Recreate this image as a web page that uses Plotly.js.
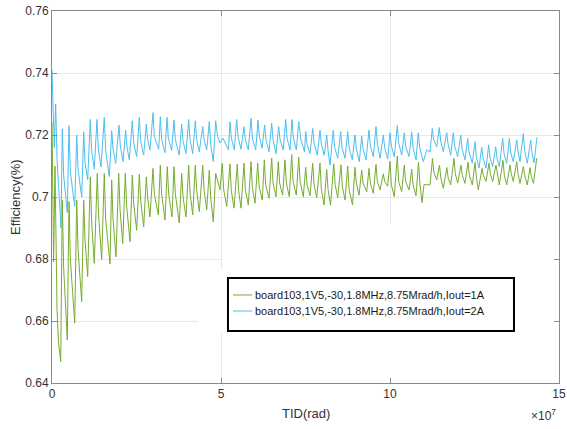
<!DOCTYPE html>
<html>
<head>
<meta charset="utf-8">
<script src="https://cdn.plot.ly/plotly-3.0.1.min.js"></script>
<style>html,body{margin:0;padding:0;background:#fff;}#chart{width:567px;height:429px;}</style>
</head>
<body>
<div id="chart"></div>
<script>
// TID in units of 1e7 rad (axis shows x10^7)
const xTickVals = [0, 5, 10, 15];
const xTickText = ['0', '5', '10', '15'];
const yTickVals = [0.64, 0.66, 0.68, 0.70, 0.72, 0.74, 0.76];
const yTickText = ['0.64', '0.66', '0.68', '0.7', '0.72', '0.74', '0.76'];

const seriesNames = [
  'board103,1V5,-30,1.8MHz,8.75Mrad/h,Iout=1A',
  'board103,1V5,-30,1.8MHz,8.75Mrad/h,Iout=2A'
];

const greenTID = [0.000,0.047,0.089,0.118,0.148,0.192,0.257,0.305,0.345,0.453,0.503,0.543,0.672,0.731,0.771,0.879,0.938,0.978,1.056,1.133,1.173,1.251,1.340,1.380,1.470,1.547,1.587,1.716,1.766,1.806,1.893,1.973,2.013,2.092,2.169,2.209,2.308,2.376,2.416,2.506,2.583,2.623,2.713,2.790,2.830,2.899,2.988,3.028,3.145,3.204,3.244,3.343,3.411,3.451,3.550,3.609,3.649,3.766,3.837,3.877,3.964,4.044,4.084,4.163,4.240,4.280,4.358,4.459,4.499,4.577,4.654,4.694,4.772,4.843,4.900,4.970,5.038,5.078,5.169,5.266,5.306,5.385,5.482,5.522,5.592,5.680,5.720,5.808,5.888,5.928,6.006,6.086,6.126,6.222,6.281,6.321,6.420,6.500,6.540,6.627,6.695,6.735,6.825,6.893,6.933,7.021,7.092,7.132,7.228,7.299,7.339,7.435,7.506,7.546,7.633,7.713,7.753,7.831,7.929,7.969,8.047,8.127,8.167,8.240,8.337,8.377,8.453,8.550,8.590,8.669,8.749,8.789,8.891,8.964,9.004,9.083,9.163,9.203,9.311,9.379,9.419,9.506,9.586,9.626,9.704,9.802,9.842,9.932,10.000,10.040,10.127,10.216,10.256,10.346,10.423,10.463,10.562,10.642,10.682,10.769,10.843,10.883,10.947,11.006,11.183,11.257,11.297,11.382,11.465,11.505,11.577,11.683,11.723,11.796,11.893,11.933,12.003,12.101,12.141,12.219,12.308,12.348,12.435,12.515,12.555,12.612,12.722,12.762,12.840,12.929,12.969,13.038,13.136,13.176,13.234,13.343,13.383,13.453,13.550,13.590,13.648,13.749,13.789,13.846,13.944,13.984,14.062,14.142,14.182,14.246,14.340];
const greenEff = [0.7243,0.679,0.710,0.680,0.664,0.653,0.6469,0.699,0.677,0.6539,0.6985,0.680,0.6593,0.699,0.683,0.6662,0.699,0.686,0.6743,0.7065,0.692,0.6786,0.7076,0.694,0.6799,0.7076,0.693,0.6784,0.7055,0.693,0.6807,0.7076,0.696,0.685,0.7076,0.697,0.6856,0.7071,0.698,0.6893,0.7074,0.699,0.6904,0.7065,0.700,0.6936,0.7092,0.701,0.6942,0.7103,0.701,0.6926,0.7098,0.701,0.6936,0.7098,0.701,0.6916,0.7076,0.700,0.6936,0.7103,0.7015,0.6942,0.7103,0.702,0.6953,0.7103,0.7025,0.6958,0.7087,0.700,0.692,0.7076,0.7055,0.7023,0.7109,0.7025,0.6969,0.7106,0.702,0.6964,0.7106,0.702,0.6964,0.7109,0.7025,0.6974,0.7114,0.703,0.698,0.7109,0.7035,0.699,0.712,0.704,0.6996,0.7125,0.7045,0.7001,0.7114,0.7045,0.7006,0.712,0.7045,0.7001,0.7137,0.705,0.7006,0.7129,0.705,0.7001,0.7096,0.704,0.7004,0.7109,0.704,0.6998,0.7109,0.7025,0.6974,0.7089,0.7025,0.6974,0.7107,0.704,0.6998,0.7104,0.7035,0.699,0.710,0.7025,0.6974,0.7096,0.7045,0.7006,0.7087,0.7045,0.7017,0.7092,0.7045,0.7012,0.7105,0.705,0.7023,0.7075,0.705,0.7035,0.7115,0.704,0.7001,0.7132,0.705,0.7017,0.7103,0.705,0.7023,0.709,0.704,0.7004,0.7112,0.7045,0.6982,0.704,0.7039,0.7124,0.708,0.7055,0.7103,0.706,0.7028,0.7095,0.706,0.7039,0.7125,0.7075,0.7045,0.7103,0.707,0.7044,0.7112,0.707,0.7039,0.7112,0.7065,0.7023,0.7092,0.707,0.705,0.7109,0.7075,0.705,0.7103,0.707,0.7039,0.7118,0.707,0.7039,0.7103,0.7075,0.705,0.7114,0.7075,0.7044,0.7098,0.707,0.7039,0.7095,0.7065,0.7044,0.7125];

const blueTID = [0.000,0.068,0.109,0.150,0.266,0.305,0.345,0.453,0.503,0.543,0.672,0.731,0.771,0.879,0.938,0.978,1.056,1.133,1.173,1.251,1.331,1.371,1.450,1.547,1.587,1.695,1.766,1.806,1.885,1.982,2.022,2.101,2.180,2.220,2.287,2.376,2.416,2.506,2.583,2.623,2.713,2.790,2.830,2.899,2.988,3.028,3.157,3.204,3.244,3.343,3.402,3.442,3.541,3.609,3.649,3.766,3.837,3.877,3.964,4.044,4.084,4.163,4.240,4.280,4.358,4.459,4.499,4.577,4.654,4.694,4.772,4.843,4.900,4.970,5.059,5.222,5.266,5.306,5.393,5.464,5.504,5.592,5.680,5.720,5.808,5.888,5.928,6.027,6.095,6.135,6.213,6.293,6.333,6.420,6.500,6.540,6.627,6.707,6.747,6.843,6.914,6.954,7.041,7.101,7.141,7.228,7.299,7.367,7.420,7.470,7.506,7.546,7.633,7.713,7.753,7.849,7.929,7.969,8.056,8.127,8.167,8.225,8.322,8.362,8.453,8.541,8.581,8.669,8.749,8.789,8.885,8.964,9.004,9.092,9.163,9.203,9.290,9.379,9.419,9.506,9.586,9.626,9.704,9.802,9.842,9.932,10.000,10.040,10.127,10.216,10.256,10.346,10.423,10.463,10.562,10.642,10.682,10.769,10.837,10.877,10.985,11.086,11.183,11.251,11.291,11.382,11.459,11.499,11.577,11.678,11.718,11.796,11.873,11.913,12.003,12.092,12.132,12.219,12.299,12.339,12.435,12.515,12.555,12.633,12.713,12.753,12.840,12.920,12.960,13.038,13.127,13.167,13.234,13.334,13.374,13.453,13.530,13.570,13.648,13.749,13.789,13.846,13.944,13.984,14.062,14.163,14.203,14.260,14.349];
const blueEff = [0.741,0.716,0.730,0.712,0.690,0.722,0.707,0.695,0.723,0.708,0.697,0.720,0.709,0.700,0.721,0.711,0.7055,0.725,0.715,0.709,0.725,0.7155,0.7097,0.7257,0.715,0.7066,0.7214,0.7155,0.7109,0.7232,0.7165,0.7114,0.7216,0.716,0.712,0.7246,0.7175,0.713,0.7257,0.718,0.7135,0.7235,0.7185,0.7152,0.7272,0.7195,0.7154,0.7259,0.7185,0.7143,0.7257,0.719,0.715,0.7248,0.7185,0.7135,0.7235,0.718,0.714,0.725,0.7185,0.714,0.7246,0.7185,0.7146,0.7227,0.7185,0.7152,0.7243,0.717,0.7114,0.7246,0.7195,0.7174,0.719,0.7152,0.7243,0.719,0.7152,0.725,0.7195,0.7154,0.7227,0.7185,0.7152,0.7254,0.719,0.7152,0.7248,0.7195,0.7157,0.7232,0.7185,0.7146,0.7238,0.7185,0.714,0.7227,0.7185,0.7152,0.725,0.719,0.7152,0.725,0.719,0.7152,0.7243,0.7184,0.7165,0.7145,0.7211,0.717,0.714,0.7221,0.7175,0.7135,0.7216,0.717,0.7135,0.720,0.715,0.7103,0.7216,0.716,0.7125,0.7211,0.716,0.7125,0.7211,0.716,0.712,0.720,0.7155,0.7114,0.7197,0.7155,0.712,0.7216,0.7165,0.713,0.7227,0.717,0.7125,0.720,0.716,0.7122,0.7207,0.7165,0.713,0.723,0.7175,0.7135,0.7207,0.7165,0.713,0.721,0.716,0.712,0.7207,0.716,0.7114,0.7152,0.7145,0.7221,0.7185,0.7162,0.7224,0.718,0.7146,0.7207,0.717,0.7135,0.7207,0.7165,0.713,0.720,0.7155,0.712,0.7189,0.7145,0.7109,0.7178,0.713,0.7093,0.716,0.7125,0.7093,0.7168,0.7125,0.7098,0.7162,0.7125,0.7098,0.7189,0.714,0.7109,0.7189,0.7145,0.7114,0.7184,0.7145,0.7114,0.7205,0.715,0.7109,0.7184,0.714,0.711,0.7193];

const greenColor = '#77AC30';
const blueColor = '#4DBEEE';
const font = '"Liberation Sans", Arial, Helvetica, sans-serif';

const traces = [
  {x: greenTID, y: greenEff, name: seriesNames[0], type: 'scatter', mode: 'lines',
   line: {color: greenColor, width: 1}, hoverinfo: 'x+y'},
  {x: blueTID, y: blueEff, name: seriesNames[1], type: 'scatter', mode: 'lines',
   line: {color: blueColor, width: 1}, hoverinfo: 'x+y'}
];

const axisCommon = {
  ticks: 'inside', ticklen: 5, tickwidth: 1, tickcolor: '#8a8a8a',
  showline: true, linecolor: '#8a8a8a', linewidth: 1, mirror: 'ticks',
  showgrid: true, gridcolor: '#e8e8e8', gridwidth: 1, zeroline: false,
  tickfont: {family: font, size: 12, color: '#333333'}
};

// legend geometry in paper coords
const legX0 = 0.3471, legX1 = 0.9112, legY0 = 0.1398, legY1 = 0.2823;
const sampleX0 = 0.357, sampleX1 = 0.3945, textX = 0.3964;
const rowY = [0.2366, 0.1935];

const layout = {
  width: 567, height: 429,
  margin: {l: 52, r: 8, t: 11, b: 46, pad: 0},
  paper_bgcolor: '#ffffff', plot_bgcolor: '#ffffff',
  showlegend: false,
  font: {family: font, size: 12, color: '#333333'},
  xaxis: Object.assign({}, axisCommon, {range: [0, 15], tickmode: 'array', tickvals: xTickVals, ticktext: xTickText}),
  yaxis: Object.assign({}, axisCommon, {range: [0.64, 0.76], tickmode: 'array', tickvals: yTickVals, ticktext: yTickText}),
  shapes: [
    {type: 'rect', xref: 'x', yref: 'y', x0: 5.03, x1: 15, y0: 0.64, y1: 0.6916, layer: 'between',
     fillcolor: '#ffffff', line: {width: 0}},
    {type: 'rect', xref: 'x', yref: 'y', x0: 4.32, x1: 5.2, y0: 0.6561, y1: 0.6765, layer: 'between',
     fillcolor: '#ffffff', line: {width: 0}},
    {type: 'rect', xref: 'paper', yref: 'paper', x0: legX0, x1: legX1, y0: legY0, y1: legY1,
     fillcolor: '#ffffff', line: {color: '#000000', width: 2}},
    {type: 'line', xref: 'paper', yref: 'paper', x0: sampleX0, x1: sampleX1, y0: rowY[0], y1: rowY[0],
     line: {color: greenColor, width: 1}},
    {type: 'line', xref: 'paper', yref: 'paper', x0: sampleX0, x1: sampleX1, y0: rowY[1], y1: rowY[1],
     line: {color: blueColor, width: 1}}
  ],
  annotations: [
    {text: seriesNames[0], xref: 'paper', yref: 'paper', x: textX, y: rowY[0], xanchor: 'left', yanchor: 'middle',
     showarrow: false, font: {family: font, size: 11, color: '#1a1a1a'}},
    {text: seriesNames[1], xref: 'paper', yref: 'paper', x: textX, y: rowY[1], xanchor: 'left', yanchor: 'middle',
     showarrow: false, font: {family: font, size: 11, color: '#1a1a1a'}},
    {text: 'TID(rad)', xref: 'paper', yref: 'paper', x: 0.501, y: -0.0833, xanchor: 'center', yanchor: 'middle',
     showarrow: false, font: {family: font, size: 13, color: '#333333'}},
    {text: 'Efficiency(%)', xref: 'paper', yref: 'paper', x: -0.073, y: 0.5, xanchor: 'center', yanchor: 'middle',
     textangle: -90, showarrow: false, font: {family: font, size: 13, color: '#333333'}},
    {text: '×10<sup>7</sup>', xref: 'paper', yref: 'paper', x: 0.998, y: -0.086, xanchor: 'right', yanchor: 'middle',
     showarrow: false, font: {family: font, size: 12, color: '#333333'}}
  ]
};

Plotly.newPlot('chart', traces, layout, {displayModeBar: false, staticPlot: true});
</script>
</body>
</html>
